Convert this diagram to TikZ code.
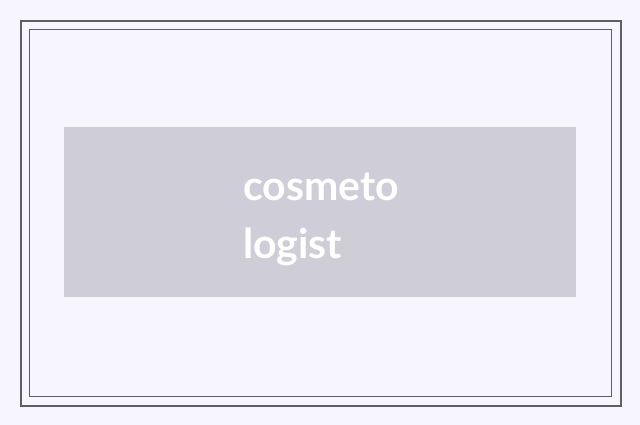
\documentclass[tikz,border=0pt]{standalone}
\usepackage{fontspec}
\setmainfont{Lato}
\definecolor{bgc}{HTML}{F7F6FE}
\definecolor{framec}{HTML}{5F5E68}
\definecolor{boxc}{HTML}{CFCED8}
\tikzset{
  outerframe/.style={draw=framec, line width=2pt},
  innerframe/.style={draw=framec, line width=1pt},
  panel/.style={fill=boxc, draw=none},
  label/.style={text=white, font=\fontsize{41}{58}\selectfont\bfseries, align=left, inner sep=0pt, anchor=base west}
}
\begin{document}
\begin{tikzpicture}[x=1pt,y=-1pt]
\fill[bgc] (0,0) rectangle (640,425);
\useasboundingbox (0,0) rectangle (640,425);
\draw[outerframe] (21,21) rectangle (620.5,405.5);
\draw[innerframe] (29.5,29.5) rectangle (611.5,396.5);
\path[panel] (64,127) rectangle (576,297);
\node[label] (word) at (243,258) {cosmeto\\logist};
\end{tikzpicture}
\end{document}
